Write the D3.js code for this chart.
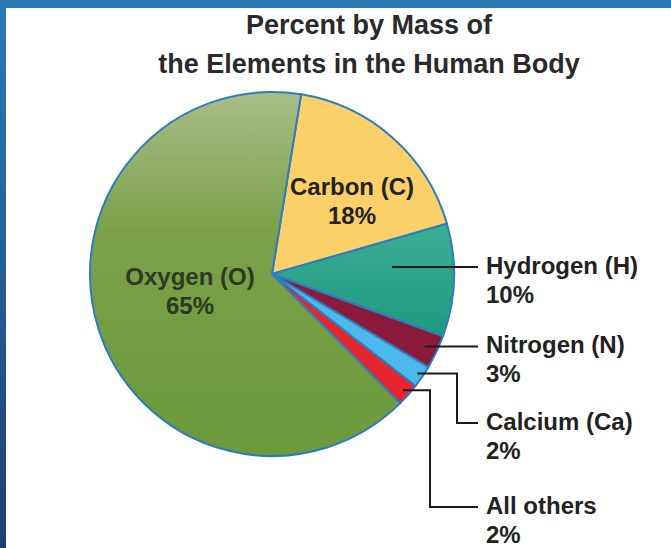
<!DOCTYPE html>
<html>
<head>
<meta charset="utf-8">
<script src="https://cdn.jsdelivr.net/npm/d3@7"></script>
<style>
  body { margin: 0; background: #fff; }
  svg { display: block; }
  text { font-family: "Liberation Sans Narrow", "Arial Narrow", "Liberation Sans", sans-serif; font-weight: bold; fill: #222; }
</style>
</head>
<body>
<div id="chart"></div>
<script>
// Chart data
var elements = ["Carbon (C)", "Hydrogen (H)", "Nitrogen (N)", "Calcium (Ca)", "All others", "Oxygen (O)"];
var percents = [18, 10, 3, 2, 2, 65];
var titleLines = ["Percent by Mass of", "the Elements in the Human Body"];

var width = 671, height = 548;
var cx = 272, cy = 274, radius = 182;

var svg = d3.select("#chart")
    .append("svg")
    .attr("width", width)
    .attr("height", height);

var defs = svg.append("defs");

var frame = defs.append("linearGradient")
    .attr("id", "frame")
    .attr("x1", 0).attr("y1", 0).attr("x2", 0).attr("y2", 1);
frame.append("stop").attr("offset", 0).attr("stop-color", "#2b7bb7");
frame.append("stop").attr("offset", 1).attr("stop-color", "#1e406c");

// the pie group is translated, so the gradient runs from -radius to +radius
var green = defs.append("linearGradient")
    .attr("id", "green")
    .attr("gradientUnits", "userSpaceOnUse")
    .attr("x1", 0).attr("y1", -radius).attr("x2", 0).attr("y2", radius);
green.append("stop").attr("offset", 0).attr("stop-color", "#aabd87");
green.append("stop").attr("offset", 0.38).attr("stop-color", "#7aa14a");
green.append("stop").attr("offset", 1).attr("stop-color", "#6b993b");

var teal = defs.append("linearGradient")
    .attr("id", "teal")
    .attr("x1", 0).attr("y1", 0).attr("x2", 0).attr("y2", 1);
teal.append("stop").attr("offset", 0).attr("stop-color", "#3aae95");
teal.append("stop").attr("offset", 1).attr("stop-color", "#1f9a7f");

// blue frame on the top and left
svg.append("rect").attr("x", 0).attr("y", 0).attr("width", width).attr("height", 8).attr("fill", "#2b79b4");
svg.append("rect").attr("x", 0).attr("y", 0).attr("width", 6).attr("height", height).attr("fill", "url(#frame)");

// title
svg.append("g")
    .selectAll("text")
    .data(titleLines)
    .enter()
    .append("text")
    .attr("x", 369)
    .attr("y", function (d, i) { return 34 + i * 39; })
    .attr("text-anchor", "middle")
    .style("font-size", "27px")
    .style("fill", "#2a2a2a")
    .text(function (d) { return d; });

var colors = d3.scaleOrdinal()
    .domain(elements)
    .range(["#fcd068", "url(#teal)", "#8b1b3d", "#4cb9ec", "#e6252d", "url(#green)"]);

var startA = 9.2 * Math.PI / 180;
var pie = d3.pie()
    .sort(null)
    .startAngle(startA)
    .endAngle(startA + 2 * Math.PI)
    .value(function (d) { return d.value; });

var data = elements.map(function (name, i) { return { name: name, value: percents[i] }; });
var arcs = pie(data);

var arc = d3.arc().innerRadius(0).outerRadius(radius);

var g = svg.append("g").attr("transform", "translate(" + cx + "," + cy + ")");

g.selectAll("path")
    .data(arcs)
    .enter()
    .append("path")
    .attr("d", arc)
    .attr("fill", function (d) { return colors(d.data.name); })
    .attr("stroke", "#2e7cc0")
    .attr("stroke-width", 2)
    .attr("stroke-linejoin", "round");

// labels inside the big slices
var inside = { "Carbon (C)": [80, -79], "Oxygen (O)": [-82, 11] };
arcs.forEach(function (d) {
    var off = inside[d.data.name];
    if (!off) return;
    var t = g.append("text")
        .attr("text-anchor", "middle")
        .style("font-size", "24px")
        .style("fill", d.data.name === "Oxygen (O)" ? "#2c3a22" : "#222");
    t.append("tspan").attr("x", off[0]).attr("y", off[1]).text(d.data.name);
    t.append("tspan").attr("x", off[0]).attr("y", off[1] + 29).text(d.data.value + "%");
});

// callout labels with leader lines
var callout = {
    "Hydrogen (H)": { r: 120, elbow: null, y: 267 },
    "Nitrogen (N)": { r: 169, elbow: null, y: null },
    "Calcium (Ca)": { r: 176, elbow: 457, y: 423 },
    "All others":   { r: 175, elbow: 430, y: 507 }
};
var lineEnd = 478, textX = 486;

arcs.forEach(function (d) {
    var c = callout[d.data.name];
    if (!c) return;
    var mid = (d.startAngle + d.endAngle) / 2;
    var sx = cx + c.r * Math.sin(mid);
    var sy = cy - c.r * Math.cos(mid);
    var ly = c.y === null ? sy : c.y;
    var pts;
    if (c.elbow === null) {
        pts = [[sx, ly], [lineEnd, ly]];
    } else {
        pts = [[sx, sy], [c.elbow, sy], [c.elbow, ly], [lineEnd, ly]];
    }
    svg.append("path")
        .attr("d", d3.line()(pts))
        .attr("fill", "none")
        .attr("stroke", "#1a1a1a")
        .attr("stroke-width", 2);
    var t = svg.append("text").style("font-size", "24px");
    t.append("tspan").attr("x", textX).attr("y", ly + 7).text(d.data.name);
    t.append("tspan").attr("x", textX).attr("y", ly + 36).text(d.data.value + "%");
});
</script>
</body>
</html>
